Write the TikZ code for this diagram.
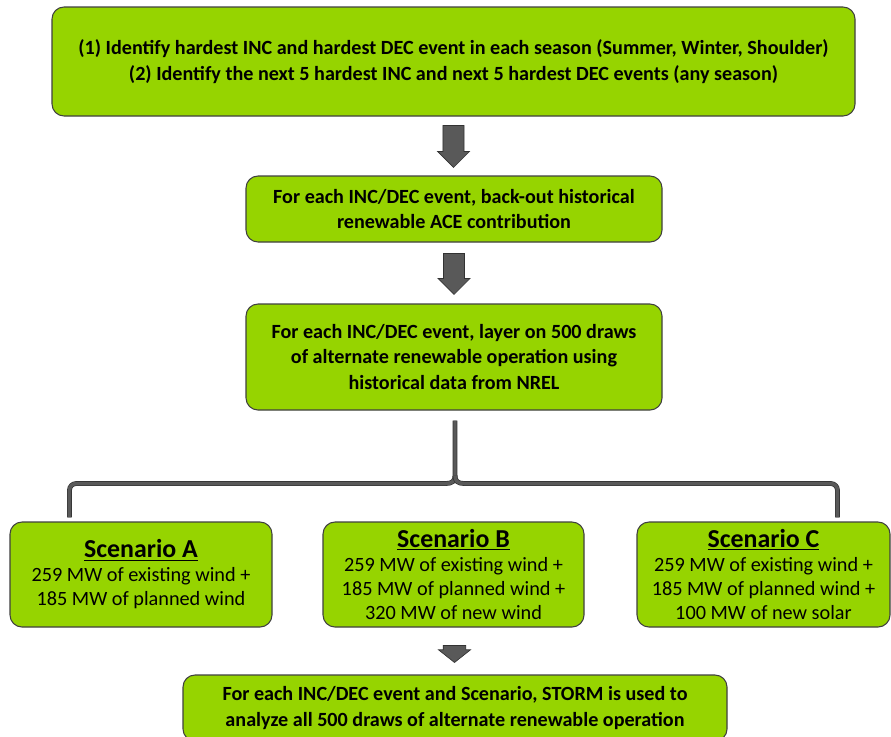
\documentclass[tikz,border=0pt]{standalone}
\usepackage{fontspec}
\setmainfont{Carlito}
\usetikzlibrary{calc}
\definecolor{boxgreen}{RGB}{150,212,0}
\definecolor{boxline}{RGB}{64,64,64}
\definecolor{arrowgray}{RGB}{89,89,89}
\definecolor{arrowline}{RGB}{50,50,50}
\newcommand\blkarrow[5]{%
  \draw[blk] let \p1=(#1), \p2=(#2) in
    (\x1-#3,\y1) -- (\x1+#3,\y1) -- (\x1+#3,\y2+#5) -- (\x1+#4,\y2+#5) --
    (\x1,\y2) -- (\x1-#4,\y2+#5) -- (\x1-#3,\y2+#5) -- cycle;}
\begin{document}
\begin{tikzpicture}[x=0.75pt,y=-0.75pt,
  gbox/.style={draw=boxline, line width=0.8pt, fill=boxgreen, rounded corners=9pt,
    inner sep=0pt, align=center},
  stepfont/.style={font=\fontsize{15.1pt}{19pt}\selectfont\bfseries},
  scenfont/.style={font=\fontsize{15.2pt}{18pt}\selectfont},
  blk/.style={fill=arrowgray, draw=arrowline, line width=0.5pt},
  bracestyle/.style={draw=arrowgray, line width=3.2pt, double=arrowgray,
    double distance=2.6pt, draw=arrowline, line width=0.5pt}]
\useasboundingbox (0,0) rectangle (891,736);
\fill[white] (0,0) rectangle (891,736);

\node[gbox, stepfont, minimum width=803*0.75pt, minimum height=109*0.75pt] (b1) at (453.5,61.5)
  {(1) Identify hardest INC and hardest DEC event in each season (Summer, Winter, Shoulder)\\
   (2) Identify the next 5 hardest INC and next 5 hardest DEC events (any season)};
\node[gbox, stepfont, minimum width=416*0.75pt, minimum height=66*0.75pt] (b2) at (454,209)
  {For each INC/DEC event, back-out historical\\ renewable ACE contribution};
\node[gbox, stepfont, minimum width=416*0.75pt, minimum height=106*0.75pt] (b3) at (454,357)
  {For each INC/DEC event, layer on 500 draws\\ of alternate renewable operation using\\ historical data from NREL};

\node[gbox, scenfont, minimum width=262*0.75pt, minimum height=105*0.75pt] (sA) at (141,574.5)
  {{\fontsize{19.4pt}{20pt}\selectfont\bfseries\underline{Scenario A}}\\
   259 MW of existing wind +\\ 185 MW of planned wind};
\node[gbox, scenfont, minimum width=261*0.75pt, minimum height=105*0.75pt] (sB) at (453.5,574.5)
  {{\fontsize{19.4pt}{20pt}\selectfont\bfseries\underline{Scenario B}}\\
   259 MW of existing wind +\\ 185 MW of planned wind +\\ 320 MW of new wind};
\node[gbox, scenfont, minimum width=253*0.75pt, minimum height=105*0.75pt] (sC) at (763.5,574.5)
  {{\fontsize{19.4pt}{20pt}\selectfont\bfseries\underline{Scenario C}}\\
   259 MW of existing wind +\\ 185 MW of planned wind +\\ 100 MW of new solar};

\node[gbox, stepfont, minimum width=544*0.75pt, minimum height=66*0.75pt] (b4) at (455,708)
  {For each INC/DEC event and Scenario, STORM is used to\\ analyze all 500 draws of alternate renewable operation};

% block arrows
\coordinate (a1t) at ($(b1.south)+(0,9)$);
\coordinate (a1h) at ($(b2.north)+(0,-8)$);
\blkarrow{a1t}{a1h}{7.9pt}{12pt}{12pt}
\coordinate (a2t) at ($(b2.south)+(0,11)$);
\coordinate (a2h) at ($(b3.north)+(0,-9)$);
\blkarrow{a2t}{a2h}{7.9pt}{12pt}{12pt}
\coordinate (a3t) at ($(sB.south)+(1,18)$);
\coordinate (a3h) at ($(b4.north)+(0,-12)$);
\blkarrow{a3t}{a3h}{8.5pt}{12pt}{9.5pt}

% brace
\coordinate (bt) at ($(b3.south)+(1,10)$);
\coordinate (bj) at ($(bt)+(0,63)$);
\coordinate (bl) at ($(sA.north west)+(60,-4)$);
\coordinate (br) at ($(sC.north west)+(201,-4)$);
\draw[bracestyle, line join=miter] let \p1=(bl), \p2=(bj), \p3=(br) in
  (\p1) -- (\x1,\y2-5pt) to[out=90,in=180] (\x1+5pt,\y2)
  -- (\x2-7pt,\y2) .. controls (\x2-2pt,\y2) and (\x2,\y2+2pt) .. (\x2,\y2+6pt)
  -- (bt);
\draw[bracestyle, line join=miter] let \p1=(br), \p2=(bj) in
  (\p1) -- (\x1,\y2-5pt) to[out=90,in=0] (\x1-5pt,\y2)
  -- (\x2+7pt,\y2) .. controls (\x2+2pt,\y2) and (\x2,\y2+2pt) .. (\x2,\y2+6pt);
\end{tikzpicture}
\end{document}
